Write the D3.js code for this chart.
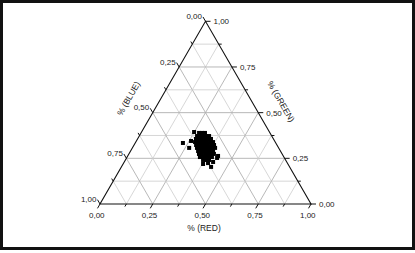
<!DOCTYPE html>
<html><head><meta charset="utf-8">
<script src="https://cdn.jsdelivr.net/npm/d3@7"></script>
<style>html,body{margin:0;padding:0;background:#fff;}svg{display:block;}</style>
</head><body><svg id="c" width="415" height="253"></svg>
<script>
// ---- data (ternary fractions) ----
const red = [
  0.275,0.289,0.303,
  0.274,0.288,0.302,0.316,0.331,
  0.277,0.291,0.305,0.320,0.334,0.348,
  0.281,0.295,0.309,0.323,0.337,0.352,0.366,
  0.294,0.308,0.322,0.336,0.350,0.365,0.379,
  0.306,0.321,0.335,0.349,0.363,0.378,0.392,
  0.320,0.334,0.348,0.362,0.376,0.391,
  0.332,0.346,0.361,0.375,0.389,0.403,
  0.345,0.360,0.374,0.388,0.402,
  0.368,0.382,0.396,
  0.249,0.259,0.226,0.269,0.379,0.400,0.425,0.421,0.429,0.428
];
const green = [
  0.389,0.389,0.389,
  0.372,0.372,0.372,0.372,0.372,
  0.356,0.356,0.356,0.356,0.356,0.356,
  0.339,0.339,0.339,0.339,0.339,0.339,0.339,
  0.323,0.323,0.323,0.323,0.323,0.323,0.323,
  0.307,0.307,0.307,0.307,0.307,0.307,0.307,
  0.290,0.290,0.290,0.290,0.290,0.290,
  0.274,0.274,0.274,0.274,0.274,0.274,
  0.257,0.257,0.257,0.257,0.257,
  0.241,0.241,0.241,
  0.394,0.345,0.334,0.307,0.219,0.224,0.203,0.230,0.252,0.263
];
const blue = [
  0.336,0.322,0.308,
  0.354,0.340,0.326,0.312,0.297,
  0.367,0.353,0.339,0.324,0.310,0.296,
  0.380,0.366,0.352,0.338,0.324,0.309,0.295,
  0.383,0.369,0.355,0.341,0.327,0.312,0.298,
  0.387,0.372,0.358,0.344,0.330,0.315,0.301,
  0.390,0.376,0.362,0.348,0.334,0.319,
  0.394,0.380,0.365,0.351,0.337,0.323,
  0.398,0.383,0.369,0.355,0.341,
  0.391,0.377,0.363,
  0.357,0.396,0.440,0.424,0.402,0.376,0.372,0.349,0.319,0.309
];
const majorTicks = [0, 0.25, 0.5, 0.75, 1];
const tickLabels = ["0,00", "0,25", "0,50", "0,75", "1,00"];
const minorTicks = [0.125, 0.375, 0.625, 0.875];
const gridValues = [0.125, 0.25, 0.375, 0.5, 0.625, 0.75, 0.875];
const titles = { red: "% (RED)", green: "% (GREEN)", blue: "% (BLUE)" };

// ---- drawing ----
const svg = d3.select("#c");
svg.append("rect").attr("x", 1.5).attr("y", 1.5).attr("width", 412).attr("height", 247)
  .attr("fill", "#fff").attr("stroke", "#111").attr("stroke-width", 3);

const xS = d3.scaleLinear().domain([0, 1]).range([100, 311]);
const yS = d3.scaleLinear().domain([0, 1]).range([204, 21.3]);
const pt = (r, g) => [xS(r + g / 2), yS(g)];
const font = "Liberation Sans, Arial, sans-serif";

const grid = svg.append("g");
gridValues.forEach(v => {
  const major = (v === 0.25 || v === 0.5 || v === 0.75);
  const col = major ? "#b0b0b0" : "#d2d2d2";
  const segs = [
    [pt(0, v), pt(1 - v, v)],       // const green
    [pt(v, 0), pt(v, 1 - v)],       // const red
    [pt(1 - v, 0), pt(0, 1 - v)]    // const blue
  ];
  segs.forEach(s => grid.append("line")
    .attr("x1", s[0][0]).attr("y1", s[0][1]).attr("x2", s[1][0]).attr("y2", s[1][1])
    .attr("stroke", col).attr("stroke-width", 0.9));
});

// triangle
const A = pt(0, 0), B = pt(1, 0), C = pt(0, 1);
svg.append("path").attr("d", `M${A}L${B}L${C}Z`).attr("fill", "none")
  .attr("stroke", "#111").attr("stroke-width", 1.1);

// ticks
const tk = svg.append("g").attr("stroke", "#111").attr("stroke-width", 1);
const dirRed = [-0.5, 0.866], dirGreen = [1, 0], dirBlue = [-0.5, -0.866];
function tick(p, d, len) {
  tk.append("line").attr("x1", p[0]).attr("y1", p[1])
    .attr("x2", p[0] + d[0] * len).attr("y2", p[1] + d[1] * len);
}
majorTicks.forEach(v => {
  tick(pt(v, 0), dirRed, 5);
  tick(pt(1 - v, v), dirGreen, 5);
  tick(pt(0, 1 - v), dirBlue, 5);
});
minorTicks.forEach(v => {
  tick(pt(v, 0), dirRed, 3);
  tick(pt(1 - v, v), dirGreen, 3);
  tick(pt(0, 1 - v), dirBlue, 3);
});

// tick labels
const lab = svg.append("g").attr("font-family", font).attr("font-size", 8).attr("fill", "#222");
majorTicks.forEach((v, i) => {
  const pr = pt(v, 0);
  lab.append("text").attr("x", pr[0] - 3.2).attr("y", pr[1] + 14)
    .attr("text-anchor", "middle").text(tickLabels[i]);
  const pg = pt(1 - v, v);
  lab.append("text").attr("x", pg[0] + 8).attr("y", pg[1] + 3)
    .attr("text-anchor", "start").text(tickLabels[i]);
  const pb = pt(0, 1 - v);
  lab.append("text").attr("x", pb[0] - 3.5).attr("y", pb[1] - 4.3 + 2)
    .attr("text-anchor", "end").text(tickLabels[i]);
});

// axis titles
const tt = svg.append("g").attr("font-family", font).attr("font-size", 8.5).attr("fill", "#222")
  .attr("text-anchor", "middle");
tt.append("text").attr("x", 204).attr("y", 231).text(titles.red);
tt.append("text").attr("transform", "translate(128.5,98.5) rotate(-60)").attr("dy", "0.35em").text(titles.blue);
tt.append("text").attr("transform", "translate(281,101.5) rotate(60)").attr("dy", "0.35em").text(titles.green);

// points
const pts = red.map((r, i) => ({ r: r, g: green[i], b: blue[i] }));
const s = 4;
svg.append("g").selectAll("rect").data(pts).join("rect")
  .attr("x", d => pt(d.r, d.g)[0] - s / 2)
  .attr("y", d => pt(d.r, d.g)[1] - s / 2)
  .attr("width", s).attr("height", s).attr("fill", "#000");
</script></body></html>
